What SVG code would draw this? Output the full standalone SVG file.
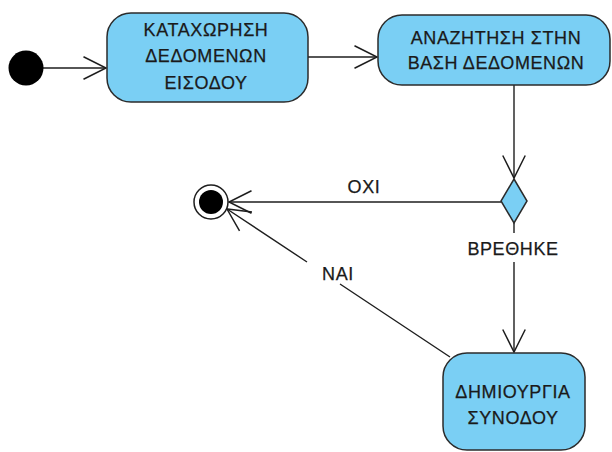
<svg xmlns="http://www.w3.org/2000/svg" width="612" height="452" viewBox="0 0 612 452">
  <defs>
    <style>
      .state { fill: #7acff4; stroke: #2b2b2b; stroke-width: 1.5; }
      .label { font-family: "Liberation Sans", Arial, sans-serif; font-size: 18px; letter-spacing: 0.6px; fill: #1a1a1a; stroke: #1a1a1a; stroke-width: 0.25; text-anchor: middle; }
      .edge { fill: none; stroke: #1e1e1e; stroke-width: 1.4; }
    </style>
    <marker id="open-arrow" markerUnits="userSpaceOnUse" markerWidth="30" markerHeight="30" refX="0" refY="0" viewBox="-24 -14 28 28" orient="auto" overflow="visible">
      <path d="M-21,-10.5 L0,0 L-21,10.5" fill="none" stroke="#1e1e1e" stroke-width="1.4"/>
    </marker>
  </defs>

  <rect width="612" height="452" fill="#ffffff"/>

  <!-- transitions -->
  <g id="connectors">
    <path class="edge" d="M43,68 L106,68" marker-end="url(#open-arrow)"/>
    <path class="edge" d="M308,57 L377,57" marker-end="url(#open-arrow)"/>
    <path class="edge" d="M514,85 L514,178" marker-end="url(#open-arrow)"/>
    <path class="edge" d="M501,202 L229,202" marker-end="url(#open-arrow)"/>
    <path class="edge" d="M514,223 L514,233 M514,262 L514,352" marker-end="url(#open-arrow)"/>
    <path class="edge" d="M450,357 L340,284 M307,262 L227,209" marker-end="url(#open-arrow)"/>
    <text class="label" x="364" y="193">ΟΧΙ</text>
    <text class="label" x="513" y="255">ΒΡΕΘΗΚΕ</text>
    <text class="label" x="338" y="280">ΝΑΙ</text>
  </g>

  <!-- start -->
  <g id="initial">
    <circle cx="26" cy="68" r="17.5" fill="#000000"/>
  </g>

  <g id="enter-input">
    <rect class="state" x="107" y="13" width="201" height="89" rx="24" ry="24"/>
    <text class="label" x="206" y="36">ΚΑΤΑΧΩΡΗΣΗ</text>
    <text class="label" x="206" y="62">ΔΕΔΟΜΕΝΩΝ</text>
    <text class="label" x="206" y="89">ΕΙΣΟΔΟΥ</text>
  </g>

  <g id="search-db">
    <rect class="state" x="378" y="15" width="232" height="70" rx="24" ry="24"/>
    <text class="label" x="496" y="44">ΑΝΑΖΗΤΗΣΗ ΣΤΗΝ</text>
    <text class="label" x="496" y="69">ΒΑΣΗ ΔΕΔΟΜΕΝΩΝ</text>
  </g>

  <g id="found-decision">
    <polygon class="state" points="514,179 527,201 514,223 501,201"/>
  </g>

  <g id="create-session">
    <rect class="state" x="443" y="353" width="142" height="97" rx="24" ry="24"/>
    <text class="label" x="513" y="398">ΔΗΜΙΟΥΡΓΙΑ</text>
    <text class="label" x="513" y="424">ΣΥΝΟΔΟΥ</text>
  </g>

  <!-- end -->
  <g id="final">
    <circle cx="211" cy="202" r="17" fill="#ffffff" stroke="#1e1e1e" stroke-width="1.5"/>
    <circle cx="211" cy="202" r="12" fill="#000000"/>
  </g>
</svg>
